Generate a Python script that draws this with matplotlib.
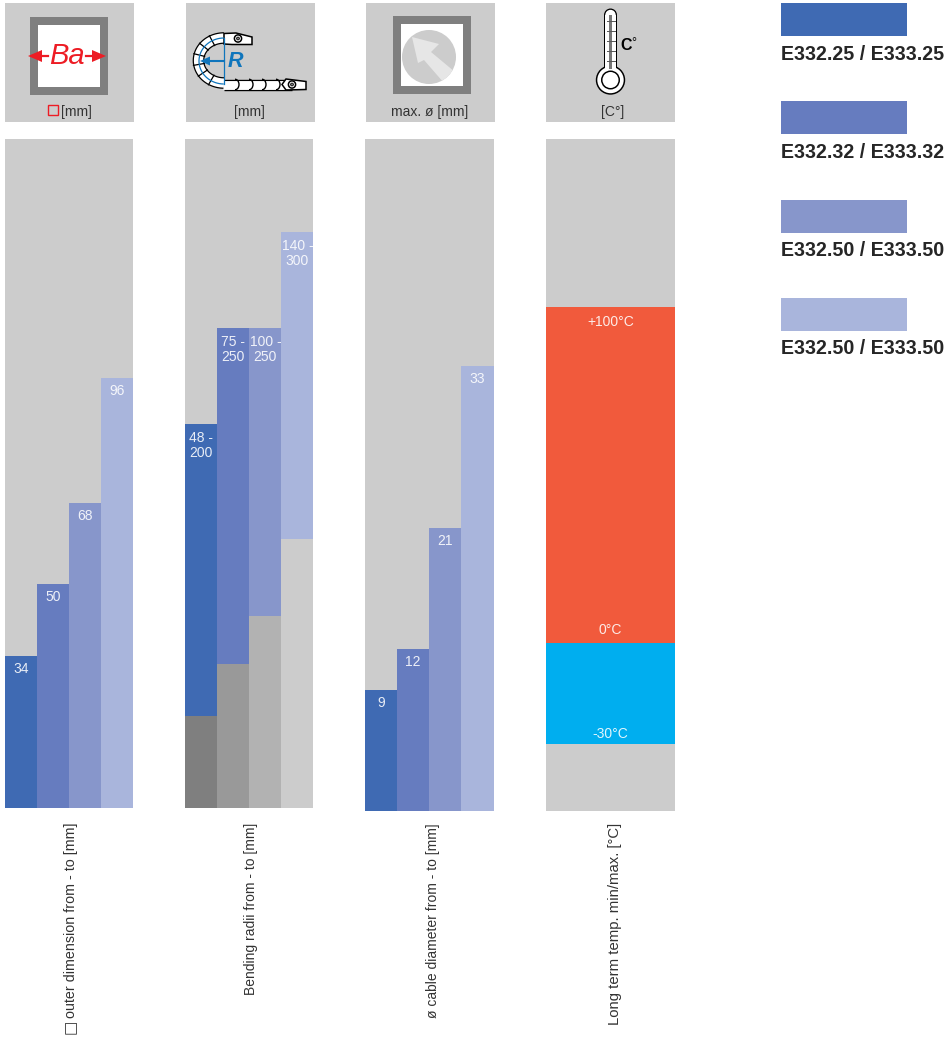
import numpy as np
import matplotlib
matplotlib.use("Agg")
import matplotlib.pyplot as plt
from matplotlib.patches import Rectangle, Circle, Polygon, Arc, Wedge

plt.rcParams['font.family'] = ['Liberation Sans', 'DejaVu Sans']

# ---- data ----
series_names = ["E332.25 / E333.25", "E332.32 / E333.32", "E332.50 / E333.50", "E332.50 / E333.50"]
outer_values = [34, 50, 68, 96]
bend_from = [48, 75, 100, 140]
bend_to = [200, 250, 250, 300]
bend_labels = ["48 -\n200", "75 -\n250", "100 -\n250", "140 -\n300"]
cable_values = [9, 12, 21, 33]
temp_min, temp_zero, temp_max = -30, 0, 100
temp_labels = ["+100°C", "0°C", "-30°C"]
axis_titles = ["outer dimension from - to [mm]", "Bending radii from - to [mm]",
               "ø cable diameter from - to [mm]", "Long term temp. min/max. [°C]"]
title_sizes = [10.3, 10, 10, 10.7]
header_units = ["[mm]", "[mm]", "max. ø [mm]", "[C°]"]

# ---- style ----
blues = ["#3f6ab3", "#667cbf", "#8796cb", "#a9b5dc"]
greys = ["#7f7f7f", "#999999", "#b2b2b2", "#cccccc"]
BG = "#cccccc"
TXT = "#333333"
RED = "#ed1c24"
ARROW_BLUE = "#0f75bc"
W, H = 950, 1037
fig = plt.figure(figsize=(W/100, H/100), dpi=100, facecolor="white")


def panel(x0, x1, y0, y1, ylim):
    ax = fig.add_axes([x0/W, 1-y1/H, (x1-x0)/W, (y1-y0)/H], facecolor=BG)
    ax.set_xlim(-0.5, 3.5)
    ax.set_ylim(*ylim)
    ax.set_xticks([]); ax.set_yticks([])
    for s in ax.spines.values():
        s.set_visible(False)
    return ax


def label(ax, x, y, s, dy):
    ax.annotate(s, (x, y), xytext=(0, dy), textcoords="offset pixels", color="white", alpha=0.88,
                fontsize=10, ha="center", va="center", linespacing=1.1)


xs = np.arange(4)
# panel 1
ax1 = panel(5, 133.5, 139, 808, (0, 149.33))
ax1.bar(xs, outer_values, width=1, color=blues)
for x, v in zip(xs, outer_values):
    label(ax1, x, v, str(v), -13)
# panel 2
ax2 = panel(185, 313.5, 139, 808, (0, 348.4))
ax2.bar(xs, bend_from, width=1, color=greys)
ax2.bar(xs, np.array(bend_to)-np.array(bend_from), bottom=bend_from, width=1, color=blues)
for x, v, s in zip(xs, bend_to, bend_labels):
    label(ax2, x, v, s, -21.5)
# panel 3
ax3 = panel(365, 493.5, 139, 811, (0, 49.78))
ax3.bar(xs, cable_values, width=1, color=blues)
for x, v in zip(xs, cable_values):
    label(ax3, x, v, str(v), -13)
# panel 4
ax4 = panel(546, 675, 139, 811, (-50, 150))
ax4.bar([1.5], [temp_max-temp_zero], bottom=temp_zero, width=4, color="#f15a3c")
ax4.bar([1.5], [temp_zero-temp_min], bottom=temp_min, width=4, color="#00aeef")
label(ax4, 1.5, temp_max, temp_labels[0], -15)
label(ax4, 1.5, temp_zero, temp_labels[1], 13)
label(ax4, 1.5, temp_min, temp_labels[2], 10)

# overlay in pixel coordinates: header icons, legend, titles
ov = fig.add_axes([0, 0, 1, 1], zorder=5)
ov.set_xlim(0, W); ov.set_ylim(H, 0)
ov.axis("off"); ov.patch.set_alpha(0)

for x in (5, 186, 366, 546):
    ov.add_patch(Rectangle((x, 3), 129, 119, fc=BG, ec="none"))
for cx, s in zip((76.5, 249.5, 429.5, 613), header_units):
    ov.text(cx, 112, s, fontsize=10, color=TXT, ha="center", va="center")
ov.add_patch(Rectangle((47.5, 105), 10, 10, fc="none", ec=RED, lw=1))

# icon 1: Ba
ov.add_patch(Rectangle((30, 17), 78, 78, fc="#7f7f7f", ec="none"))
ov.add_patch(Rectangle((38, 25), 62, 62, fc="white", ec="none"))
ov.plot([40, 48], [56, 56], color=RED, lw=1.6)
ov.plot([86, 96], [56, 56], color=RED, lw=1.6)
ov.add_patch(Polygon([(28, 56), (42, 50), (42, 62)], fc=RED, ec="none"))
ov.add_patch(Polygon([(106, 56), (92, 50), (92, 62)], fc=RED, ec="none"))
ov.text(66.5, 55.5, "Ba", fontsize=21, style="italic", color=RED, ha="center", va="center")

# icon 2: chain
th = np.radians(np.linspace(90, 270, 60))
ox = 224 + 25.5*np.cos(th); oy = 60.5 - 22.5*np.sin(th)
ov.plot(ox, oy, color="black", lw=8.4, solid_capstyle="butt")
ov.plot(ox, oy, color="white", lw=6.6, solid_capstyle="butt")
ov.plot([224, 292], [84.5, 84.5], color="black", lw=8.2, solid_capstyle="butt")
ov.plot([223, 292], [84.5, 84.5], color="white", lw=6.4, solid_capstyle="butt")
for a in (118, 142, 166, 190, 214, 240):
    t = np.radians(a)
    ov.plot([224+20*np.cos(t), 224+31*np.cos(t)],
            [60.5-17*np.sin(t), 60.5-28*np.sin(t)], color="black", lw=0.9)
for x in (238, 252, 265, 279):
    ov.add_patch(Arc((x-3, 84.5), 8, 10.5, theta1=-90, theta2=90, ec="black", lw=1, zorder=3))
ov.add_patch(Polygon([(286, 79), (306, 81.5), (306, 89.5), (286, 90), (282, 84.5)], fc="white", ec="black", lw=1.1, zorder=3))
ov.add_patch(Circle((292, 84.5), 3.6, fc="white", ec="black", lw=1.1, zorder=3))
ov.add_patch(Circle((292, 84.5), 1.4, fc="#808080", ec="black", lw=0.6, zorder=3))
ov.add_patch(Polygon([(224, 33.5), (236, 33), (252, 37), (252, 44.5), (232, 44.5), (224, 44)], fc="white", ec="black", lw=1.1, zorder=3))
ov.add_patch(Circle((238, 38.5), 3.6, fc="white", ec="black", lw=1.1, zorder=3))
ov.add_patch(Circle((238, 38.5), 1.4, fc="#808080", ec="black", lw=0.6, zorder=3))
# radius marks
th2 = np.radians(np.linspace(92, 268, 50))
ov.plot(224 + 25*np.cos(th2), 61 - 23*np.sin(th2), color=ARROW_BLUE, lw=0.9, zorder=4)
ov.plot([224, 224], [38, 84], color=ARROW_BLUE, lw=0.9, zorder=4)
ov.plot([208, 224], [61, 61], color=ARROW_BLUE, lw=1.5, zorder=4)
ov.add_patch(Polygon([(200, 61), (210, 56.5), (210, 65.5)], fc=ARROW_BLUE, ec="none", zorder=4))
ov.text(235.5, 61.5, "R", fontsize=15.5, style="italic", weight="bold", color=ARROW_BLUE, ha="center", va="center")

# icon 3: cable arrow
ov.add_patch(Rectangle((393, 16), 78, 78, fc="#7f7f7f", ec="none"))
ov.add_patch(Rectangle((401, 24), 62, 62, fc="white", ec="none"))
disc = Circle((429, 57), 27, fc=BG, ec="none")
ov.add_patch(disc)
arr = Polygon([(412, 37), (439, 44), (431, 52), (455, 72), (444, 83), (424, 60), (418, 63)],
              fc="#e6e6e6", ec="none")
ov.add_patch(arr)
arr.set_clip_path(disc)


# icon 4: thermometer
def thermo(col, half, r, z):
    ov.add_patch(Rectangle((610.5-half, 15), 2*half, 55, fc=col, ec="none", zorder=z))
    ov.add_patch(Wedge((610.5, 15), half, 180, 360, fc=col, ec="none", zorder=z))
    ov.add_patch(Circle((610.5, 80), r, fc=col, ec="none", zorder=z))


thermo("black", 6.5, 14.7, 6)
thermo("white", 5.2, 13.2, 7)
ov.add_patch(Circle((610.5, 80), 9.5, fc="black", ec="none", zorder=8))
ov.add_patch(Circle((610.5, 80), 8.0, fc="white", ec="none", zorder=8))
ov.add_patch(Rectangle((609, 15), 3, 54, fc="#777777", ec="none", zorder=8))
for y in (21, 31, 41, 51, 61):
    ov.plot([606.5, 614.5], [y, y], color="#555555", lw=0.7, zorder=8)
ov.text(620, 46, "C", fontsize=11.5, color="black", ha="left", va="center", weight="bold", zorder=9)
ov.text(631.5, 43, "°", fontsize=9, color="black", ha="left", va="center", zorder=9)

# legend
for top, base, col, name in zip((3, 101, 200, 298), (54, 152, 250, 348), blues, series_names):
    ov.add_patch(Rectangle((781, top), 126, 33, fc=col, ec="none"))
    ov.text(781, base, name, fontsize=14.1, weight="bold", color="#262626", ha="left", va="center")

# rotated titles
for x, s, fs in zip((70.5, 251.5, 433.5, 614.5), axis_titles, title_sizes):
    ov.text(x, 823, s, rotation=90, fontsize=fs, color=TXT, ha="center", va="top")
ov.text(70, 1027, "□", rotation=90, fontsize=11, color=TXT, ha="center", va="center", family="DejaVu Sans")

fig.savefig("out.png", dpi=100)
